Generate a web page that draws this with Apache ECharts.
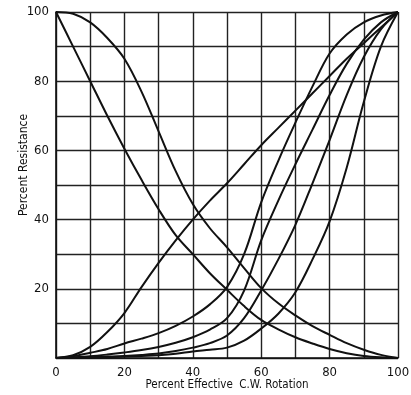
<!DOCTYPE html>
<html>
<head>
<meta charset="utf-8">
<script src="https://cdn.jsdelivr.net/npm/echarts@6/dist/echarts.min.js"></script>
<style>
html,body{margin:0;padding:0;background:#fff;}
#chart{width:411px;height:395px;}
</style>
</head>
<body>
<div id="chart"></div>
<script>
// Percent effective C.W. rotation (x) samples
var rotation = [0,5,10,15,20,25,30,35,40,45,50,55,60,65,70,75,80,85,90,95,100];
// Percent resistance curves
var curveLinear   = [0,0.8,3.2,7.5,13,20.5,27.5,34,40,45.5,50.5,56,61.5,66.5,71.5,76.5,81.5,86.5,91,95.5,100];
var curveDecayA   = [100,90,80,70,60.5,51.5,43,35.5,30,24.5,19.7,15,11,8.3,6,4.2,2.6,1.4,0.6,0.2,0];
var curveDecayS   = [100,99.5,97,92.5,86.5,77,65.5,54,44.5,37.5,32,26,20.2,15.8,12.3,9.2,6.7,4.3,2.4,0.9,0];
var curveRiseD    = [0,0.5,1.5,2.6,4.2,5.6,7.2,9.3,12,15.5,20.5,30,45,57,68,78.5,88,93.5,97,99,100];
var curveRiseE    = [0,0.2,0.5,1,1.6,2.3,3.2,4.4,6,8.2,11.5,19.5,34,45.5,56,66,76,85,92,97,100];
var curveRiseF    = [0,0.1,0.2,0.4,0.6,0.9,1.3,2,3,4.3,6.5,11.5,19.5,28.5,38.5,50.5,63,76,87,95,100];
var curveRiseG    = [0,0,0.1,0.2,0.4,0.6,0.8,1.2,1.9,2.4,3,5,8.5,12.8,19,28.5,39.5,55,74,90,100];
var xTickLabels = ['0','20','40','60','80','100'];
var yTickLabels = ['20','40','60','80','100'];

var allCurves = [curveLinear, curveDecayA, curveDecayS, curveRiseD, curveRiseE, curveRiseF, curveRiseG];
function pairs(ys){ return rotation.map(function(x,i){ return [x, ys[i]]; }); }

var font = "'DejaVu Sans Condensed', 'Liberation Sans Narrow', sans-serif";
var chart = echarts.init(document.getElementById('chart'), null, {renderer:'canvas'});
chart.setOption({
  backgroundColor:'#fff',
  animation:false,
  grid:{left:56, right:13, top:12, bottom:37, outerBoundsMode:'none', containLabel:false},
  xAxis:{
    type:'value', min:0, max:100, interval:10,
    name:'Percent Effective  C.W. Rotation', nameLocation:'middle', nameGap:21,
    nameMoveOverlap:false,
    nameTextStyle:{fontFamily:font, fontSize:11.5, color:'#111'},
    axisLine:{show:true, lineStyle:{color:'#111', width:1.6}},
    axisTick:{show:false},
    axisLabel:{fontFamily:font, fontSize:13, color:'#111', margin:8,
      formatter:function(v){ var s=String(v); return xTickLabels.indexOf(s)>=0 ? s : ''; }},
    splitLine:{show:true, lineStyle:{color:'#222', width:1.4}}
  },
  yAxis:{
    type:'value', min:0, max:100, interval:10,
    name:'Percent Resistance', nameLocation:'middle', nameGap:26,
    nameMoveOverlap:false,
    nameTextStyle:{fontFamily:font, fontSize:12, color:'#111', padding:[0,0,0,40]},
    axisLine:{show:true, lineStyle:{color:'#111', width:1.6}},
    axisTick:{show:false},
    axisLabel:{fontFamily:font, fontSize:13, color:'#111', margin:7,
      formatter:function(v){ var s=String(v); return yTickLabels.indexOf(s)>=0 ? s : ''; }},
    splitLine:{show:true, lineStyle:{color:'#222', width:1.4}}
  },
  series: allCurves.map(function(c){
    return {type:'line', data:pairs(c), showSymbol:false, smooth:0.35,
      lineStyle:{color:'#111', width:2}, silent:true};
  })
});
</script>
</body>
</html>
